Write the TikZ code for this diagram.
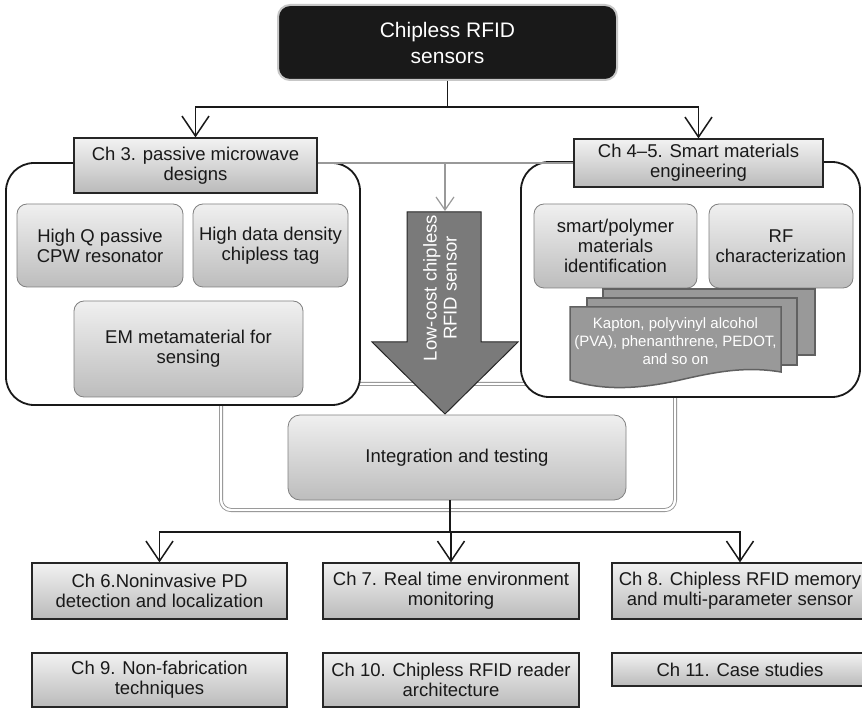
\documentclass[tikz,border=0pt]{standalone}
\usepackage{fontspec}
\setmainfont{Liberation Sans}
\usetikzlibrary{arrows.meta}
\newcommand\fmain{\fontsize{18.5}{20}\selectfont}
\newcommand\ftop{\fontsize{21}{26}\selectfont}
\newcommand\fsheet{\fontsize{15}{18}\selectfont}
\begin{document}
\begin{tikzpicture}[x=1pt,y=-1pt,
  conn/.style={draw=black!90, line width=1.9pt},
  tip/.style={-{Straight Barb[length=20pt,width=27pt,line width=1.5pt]}},
  chbox/.style={rectangle, draw=black!85, line width=1.2pt, top color=black!5, bottom color=black!27,
    text=black!90, font=\fmain, align=center, inner sep=0pt},
  rbox/.style={rectangle, rounded corners=10pt, draw=black!50, line width=0.8pt, top color=black!6, bottom color=black!26,
    text=black!90, font=\fmain, align=center, inner sep=0pt},
  container/.style={rectangle, rounded corners=28pt, draw=black!90, fill=white, line width=1.8pt, inner sep=0pt},
  frame/.style={rectangle, rounded corners=10pt, draw=black!45, double=white, double distance=2.4pt, line width=0.8pt, inner sep=0pt},
  sheet/.style={fill=black!40, draw=black!62, line width=1.5pt},
  grayln/.style={draw=black!40, line width=1.4pt},
]
\fill[white] (0,0) rectangle (862,708);
\useasboundingbox (0,0) rectangle (862,708);

% double-lined frame around integration
\node[frame, minimum width=454pt, minimum height=126pt] (frame) at (448,447) {};

% containers
\node[container, minimum width=354pt, minimum height=242pt] (leftc) at (183,284) {};
\node[container, minimum width=339pt, minimum height=235pt] (rightc) at (690.5,279.5) {};

% inner boxes left
\node[rbox, minimum width=166pt, minimum height=83pt] (hq) at (100,245.5) {High Q passive\\CPW resonator};
\node[rbox, minimum width=155pt, minimum height=83pt] (hd) at (270.5,245.5) {High data density\\chipless tag};
\node[rbox, minimum width=229pt, minimum height=96pt] (em) at (188.5,349) {EM metamaterial for\\sensing};

% inner boxes right
\node[rbox, minimum width=163pt, minimum height=84pt] (smart) at (615.5,246) {smart/polymer\\materials\\identification};
\node[rbox, minimum width=144pt, minimum height=84pt] (rf) at (781,246) {RF\\characterization};

% stacked sheets
\filldraw[sheet] (603,289) rectangle (815,355);
\filldraw[sheet] (587,298) rectangle (797,365);
\filldraw[sheet] (570,307) -- (781,307) -- (781,372)
  .. controls (745,366) and (715,372) .. (680,380)
  .. controls (645,388) and (605,392) .. (570,380) -- cycle;
\node[text=white, font=\fsheet, align=center] (kapton) at (675.5,341) {Kapton, polyvinyl alcohol\\(PVA), phenanthrene, PEDOT,\\and so on};

% chapter boxes on containers
\node[chbox, minimum width=243pt, minimum height=55pt] (ch3) at (195.5,165.5) {Ch 3. passive microwave\\designs};
\node[chbox, minimum width=249pt, minimum height=48pt] (ch45) at (698.5,163) {Ch 4--5. Smart materials\\engineering};

% gray connector and arrow
\coordinate (gb) at (445,163);
\coordinate (bigtop) at (445,211);
\draw[grayln] (ch3.east |- ch45.west) -- (ch45.west);
\draw[grayln, -{Straight Barb[length=13pt,width=18pt,line width=1.2pt]}] (gb) -- (bigtop);

% big arrow
\filldraw[fill=black!52, draw=black!85, line width=1pt]
  (407,212) -- (481,212) -- (481,342) -- (518,342) -- (445,414) -- (372,342) -- (407,342) -- cycle;
\node[rotate=90, text=white, font=\fmain, align=center] (lowcost) at (440,288) {Low-cost chipless\\RFID sensor};

% integration
\node[rbox, rounded corners=12pt, minimum width=338pt, minimum height=85pt] (integ) at (457,457.5) {Integration and testing};

% top box
\node[rectangle, rounded corners=12pt, fill=black!90, draw=black!22, line width=2pt, text=white, font=\ftop,
  align=center, minimum width=339pt, minimum height=75pt, inner sep=0pt] (top) at (447.5,42.5) {Chipless RFID\\sensors};

% bottom boxes
\node[chbox, minimum width=255pt, minimum height=56pt] (ch6) at (159.5,591) {Ch 6.Noninvasive PD\\detection and localization};
\node[chbox, minimum width=256pt, minimum height=56pt] (ch7) at (451,591) {Ch 7. Real time environment\\monitoring};
\node[chbox, minimum width=256pt, minimum height=56pt] (ch8) at (740,591) {Ch 8. Chipless RFID memory\\and multi-parameter sensor};
\node[chbox, minimum width=255pt, minimum height=54pt] (ch9) at (159.5,680) {Ch 9. Non-fabrication\\techniques};
\node[chbox, minimum width=256pt, minimum height=54pt] (ch10) at (451,680) {Ch 10. Chipless RFID reader\\architecture};
\node[chbox, minimum width=256pt, minimum height=33pt] (ch11) at (740,669.5) {Ch 11. Case studies};

% top connectors
\coordinate (tbar) at (447.5,107);
\draw[conn] (top.south) -- (tbar);
\draw[conn, tip] (tbar) -| (ch3.north);
\draw[conn, tip] (tbar) -| (ch45.north);

% bottom connectors
\coordinate (bbar) at (450,532);
\draw[conn] (integ.south -| bbar) -- (bbar);
\draw[conn, tip] (bbar) -| (ch6.north);
\draw[conn, tip] (bbar) -| (ch7.north);
\draw[conn, tip] (bbar) -| (ch8.north);
\end{tikzpicture}
\end{document}
